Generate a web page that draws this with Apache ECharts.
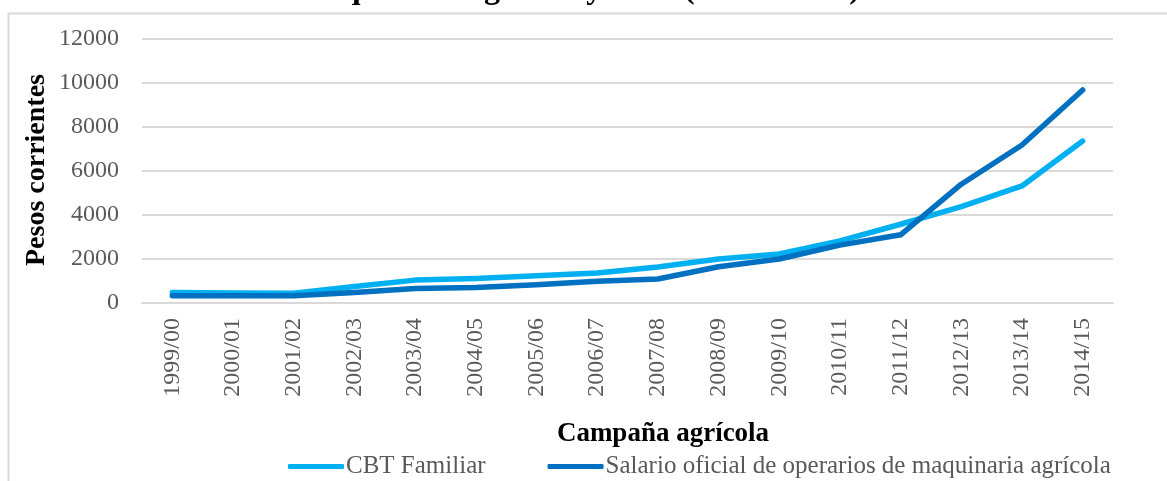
<!DOCTYPE html>
<html>
<head>
<meta charset="utf-8">
<script src="https://cdn.jsdelivr.net/npm/echarts@6/dist/echarts.min.js"></script>
<style>
  html, body { margin: 0; padding: 0; background: #ffffff; }
  #chart { width: 1167px; height: 481px; }
</style>
</head>
<body>
<div id="chart"></div>
<script>
// Campañas agrícolas (eje de categorías)
const campaigns = ['1999/00', '2000/01', '2001/02', '2002/03', '2003/04', '2004/05',
  '2005/06', '2006/07', '2007/08', '2008/09', '2009/10', '2010/11',
  '2011/12', '2012/13', '2013/14', '2014/15'];

// Canasta básica total familiar (pesos corrientes)
const cbtFamiliar = [480, 460, 440, 750, 1040, 1110, 1240, 1360, 1640, 2000,
  2230, 2820, 3580, 4380, 5320, 7360];

// Salario oficial de operarios de maquinaria agrícola (pesos corrientes)
const salarioOperarios = [330, 330, 330, 480, 660, 700, 830, 990, 1090, 1650,
  2000, 2630, 3100, 5400, 7180, 9680];

// Escala del eje de valores
const yMin = 0;
const yMax = 12000;
const yStep = 2000;

const seriesNames = ['CBT Familiar', 'Salario oficial de operarios de maquinaria agrícola'];
const titleText = 'maquinaria agrícola y CBT (1999 - 2015)';
const xAxisTitle = 'Campaña agrícola';
const yAxisTitle = 'Pesos corrientes';

const serif = '"Liberation Serif", "Times New Roman", serif';
const grey = '#595959';

const chart = echarts.init(document.getElementById('chart'), null, { renderer: 'canvas' });

chart.setOption({
  backgroundColor: '#ffffff',
  animation: false,
  graphic: [
    {
      type: 'rect',
      shape: { x: 8.5, y: 13.5, width: 1200, height: 520 },
      style: { fill: 'none', stroke: '#D9D9D9', lineWidth: 2 },
      silent: true
    },
    {
      type: 'text',
      x: 580, y: -26,
      style: {
        text: titleText, font: 'bold 32px ' + serif, fill: '#000000',
        align: 'center', verticalAlign: 'top'
      }
    },
    {
      type: 'text',
      x: 663, y: 434,
      style: {
        text: xAxisTitle, font: 'bold 27px ' + serif, fill: '#000000',
        align: 'center', verticalAlign: 'middle'
      }
    },
    {
      type: 'text',
      x: 37, y: 170,
      rotation: Math.PI / 2,
      style: {
        text: yAxisTitle, font: 'bold 28px ' + serif, fill: '#000000',
        align: 'center', verticalAlign: 'middle'
      }
    }
  ],
  grid: { left: 142, right: 54, top: 39, bottom: 178, containLabel: false },
  legend: {
    data: seriesNames,
    icon: 'roundRect',
    left: 283,
    top: 449,
    itemWidth: 56,
    itemHeight: 5,
    itemGap: 62,
    textStyle: { fontFamily: serif, fontSize: 25, color: grey, padding: [0, 0, 0, -3] }
  },
  xAxis: {
    type: 'category',
    data: campaigns,
    boundaryGap: true,
    axisLine: { show: true, lineStyle: { color: '#D9D9D9', width: 2 } },
    axisTick: { show: false },
    axisLabel: {
      rotate: 90, margin: 15, interval: 0,
      fontFamily: serif, fontSize: 24, color: grey
    },
    splitLine: { show: false }
  },
  yAxis: {
    type: 'value',
    min: yMin, max: yMax, interval: yStep,
    axisLine: { show: false },
    axisTick: { show: false },
    axisLabel: {
      margin: 23, fontFamily: serif, fontSize: 24, color: grey,
      formatter: (v) => String(v)
    },
    splitLine: { show: true, lineStyle: { color: '#D9D9D9', width: 2 } }
  },
  series: [
    {
      name: seriesNames[0],
      type: 'line',
      data: cbtFamiliar,
      symbol: 'none',
      lineStyle: { color: '#00B0F0', width: 5.5, cap: 'round', join: 'round' },
      itemStyle: { color: '#00B0F0' },
      z: 2
    },
    {
      name: seriesNames[1],
      type: 'line',
      data: salarioOperarios,
      symbol: 'none',
      lineStyle: { color: '#0070C0', width: 5.5, cap: 'round', join: 'round' },
      itemStyle: { color: '#0070C0' },
      z: 3
    }
  ]
});
</script>
</body>
</html>
